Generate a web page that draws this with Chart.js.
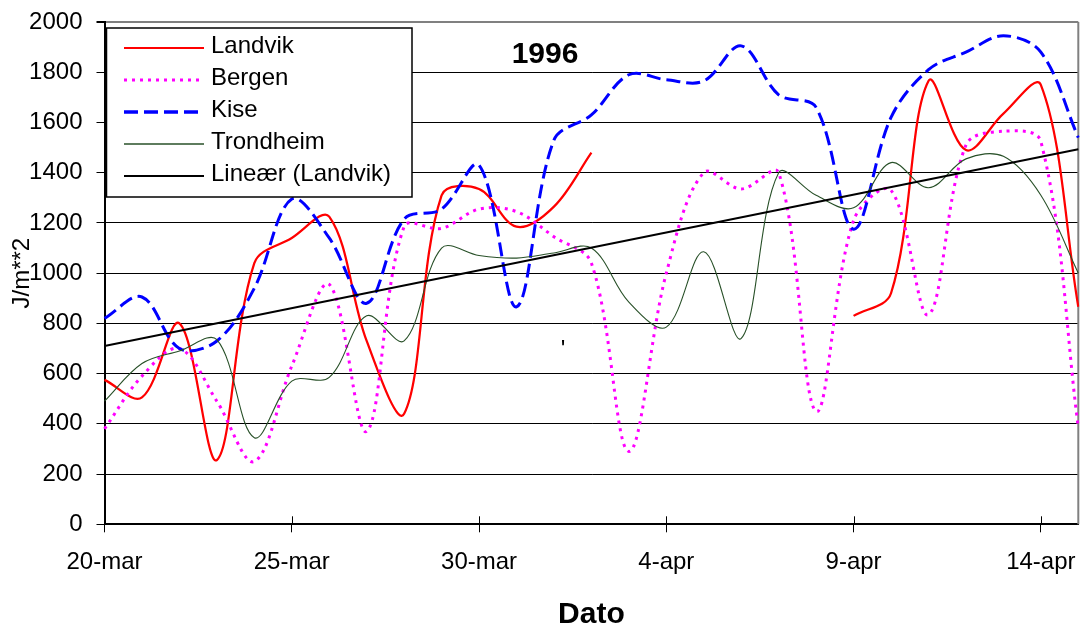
<!DOCTYPE html>
<html>
<head>
<meta charset="utf-8">
<title>Innstråling 1996</title>
<script src="https://cdn.jsdelivr.net/npm/chart.js@4/dist/chart.umd.min.js"></script>
<style>
    html, body { margin: 0; padding: 0; background: #fff; }
    #wrap { width: 1081px; height: 633px; }
</style>
</head>
<body>
<div id="wrap"><canvas id="solChart" width="1081" height="633"></canvas></div>
<script>
// Daily values 20-mar to 15-apr 1996 (J/m**2)
const days = [
    '20-mar', '21-mar', '22-mar', '23-mar', '24-mar', '25-mar', '26-mar', '27-mar', '28-mar',
    '29-mar', '30-mar', '31-mar', '1-apr', '2-apr', '3-apr', '4-apr', '5-apr', '6-apr',
    '7-apr', '8-apr', '9-apr', '10-apr', '11-apr', '12-apr', '13-apr', '14-apr', '15-apr'
];
const xTickLabels = ['20-mar', '25-mar', '30-mar', '4-apr', '9-apr', '14-apr'];

const landvik = [575, 505, 800, 256, 1040, 1140, 1225, 730, 440, 1310, 1335, 1185, 1265, 1480,
    null, null, null, null, null, null, 830, 920, 1765, 1490, 1635, 1750, 866];
const bergen = [380, 590, 700, 490, 250, 630, 955, 370, 1185, 1178, 1255, 1245, 1145, 1040,
    290, 1000, 1400, 1335, 1400, 450, 1210, 1330, 835, 1510, 1565, 1525, 385];
const kise = [820, 905, 700, 730, 940, 1295, 1140, 880, 1215, 1255, 1430, 866, 1530, 1630,
    1790, 1770, 1765, 1905, 1710, 1660, 1175, 1620, 1810, 1880, 1945, 1880, 1540];
const trondheim = [490, 640, 690, 735, 345, 570, 585, 830, 730, 1100, 1070, 1060, 1080, 1100,
    885, 785, 1085, 740, 1400, 1310, 1260, 1440, 1340, 1455, 1465, 1310, 1000];
// Linear trendline for Landvik: value at first and last day
const trendEnds = [710, 1493];

const FONT = "'Liberation Sans', Arial, sans-serif";
Chart.defaults.font.family = FONT;
Chart.defaults.color = '#000';

const trend = days.map((d, i) => {
    if (i === 0) return trendEnds[0];
    if (i === days.length - 1) return trendEnds[1];
    return null;
});

// Legend box inside the plot, like the Excel one
const boxLegend = {
    id: 'boxLegend',
    afterDraw(chart) {
        const ctx = chart.ctx;
        ctx.save();
        ctx.fillStyle = '#fff';
        ctx.fillRect(106.5, 28, 305.5, 169);
        ctx.strokeStyle = '#000';
        ctx.lineWidth = 1.5;
        ctx.strokeRect(106.5, 28, 305.5, 169);
        ctx.font = '24px ' + FONT;
        ctx.textBaseline = 'alphabetic';
        ctx.textAlign = 'left';
        chart.data.datasets.forEach((ds, i) => {
            const y = 48 + i * 32;
            ctx.beginPath();
            ctx.strokeStyle = ds.borderColor;
            ctx.lineWidth = ds.legendWidth || ds.borderWidth;
            ctx.setLineDash(ds.borderDash || []);
            ctx.moveTo(124, y);
            ctx.lineTo(204, y);
            ctx.stroke();
            ctx.setLineDash([]);
            ctx.fillStyle = '#000';
            ctx.fillText(ds.label, 211, y + 5);
        });
        ctx.restore();
    }
};

// Grey frame right, inward x ticks, "1996" and the small stray mark
const plotExtras = {
    id: 'plotExtras',
    beforeDatasetsDraw(chart) {
        const {ctx, chartArea} = chart;
        const xs = chart.scales.x;
        ctx.save();
        ctx.strokeStyle = '#808080';
        ctx.lineWidth = 2;
        ctx.beginPath();
        ctx.moveTo(chartArea.right, chartArea.top);
        ctx.lineTo(chartArea.right, chartArea.bottom);
        ctx.stroke();
        ctx.strokeStyle = '#000';
        ctx.lineWidth = 1;
        days.forEach((d, i) => {
            if (!xTickLabels.includes(d)) return;
            const x = Math.round(xs.getPixelForTick(i)) + 0.5;
            ctx.beginPath();
            ctx.moveTo(x, chartArea.bottom - 8);
            ctx.lineTo(x, chartArea.bottom);
            ctx.stroke();
        });
        ctx.fillStyle = '#000';
        ctx.font = 'bold 30px ' + FONT;
        ctx.textAlign = 'center';
        ctx.textBaseline = 'middle';
        ctx.fillText('1996', 545, 55);
        ctx.font = '24px ' + FONT;
        ctx.textBaseline = 'alphabetic';
        ctx.fillText("'", 563, 357);
        ctx.restore();
    }
};

new Chart(document.getElementById('solChart'), {
    type: 'line',
    data: {
        labels: days,
        datasets: [
            {
                label: 'Landvik',
                data: landvik,
                borderColor: '#ff0000',
                borderWidth: 2.25,
                legendWidth: 2,
                order: 4
            },
            {
                label: 'Bergen',
                data: bergen,
                borderColor: '#ff00ff',
                borderWidth: 3,
                borderDash: [3, 5],
                order: 3
            },
            {
                label: 'Kise',
                data: kise,
                borderColor: '#0000ff',
                borderWidth: 3,
                borderDash: [14, 6],
                legendWidth: 3.5,
                order: 2
            },
            {
                label: 'Trondheim',
                data: trondheim,
                borderColor: '#285028',
                borderWidth: 1.1,
                legendWidth: 1.5,
                order: 1
            },
            {
                label: 'Lineær (Landvik)',
                data: trend,
                borderColor: '#000',
                borderWidth: 2,
                tension: 0,
                spanGaps: true,
                order: 0
            }
        ]
    },
    options: {
        responsive: false,
        animation: false,
        devicePixelRatio: 1,
        layout: { padding: { left: 0, top: 22, right: 2.7, bottom: 0 } },
        elements: {
            line: { tension: 0.35, fill: false },
            point: { radius: 0, hoverRadius: 0 }
        },
        scales: {
            x: {
                type: 'category',
                offset: false,
                grid: {
                    drawOnChartArea: false,
                    drawTicks: true,
                    tickLength: 8,
                    color: ctx => xTickLabels.includes(days[ctx.index]) ? '#000' : 'rgba(0,0,0,0)'
                },
                border: { display: true, color: '#000', width: 2 },
                ticks: {
                    autoSkip: false,
                    maxRotation: 0,
                    padding: 16,
                    font: { size: 24 },
                    callback: (value, index) => xTickLabels.includes(days[index]) ? days[index] : ''
                },
                title: {
                    display: true,
                    text: 'Dato',
                    font: { size: 30, weight: 'bold' },
                    padding: { top: 0, bottom: 0 }
                },
                afterFit: scale => {
                    scale.height = 108.7;
                    scale.paddingLeft = 0;
                    scale.paddingRight = 0;
                }
            },
            y: {
                min: 0,
                max: 2000,
                ticks: {
                    stepSize: 200,
                    padding: 14,
                    font: { size: 24 },
                    callback: value => String(value)
                },
                grid: {
                    color: ctx => (ctx.tick && ctx.tick.value === 2000) ? '#808080' : '#000',
                    lineWidth: ctx => (ctx.tick && ctx.tick.value === 2000) ? 2 : 1,
                    tickColor: '#000',
                    tickLength: 8
                },
                border: { display: true, color: '#000', width: 2 },
                title: {
                    display: true,
                    text: 'J/m**2',
                    font: { size: 24 },
                    padding: { top: 8, bottom: 0 }
                },
                afterFit: scale => {
                    scale.width = 104.5;
                    scale.paddingTop = 0;
                    scale.paddingBottom = 0;
                }
            }
        },
        plugins: {
            legend: { display: false },
            title: { display: false },
            tooltip: { enabled: false }
        }
    },
    plugins: [plotExtras, boxLegend]
});
</script>
</body>
</html>
